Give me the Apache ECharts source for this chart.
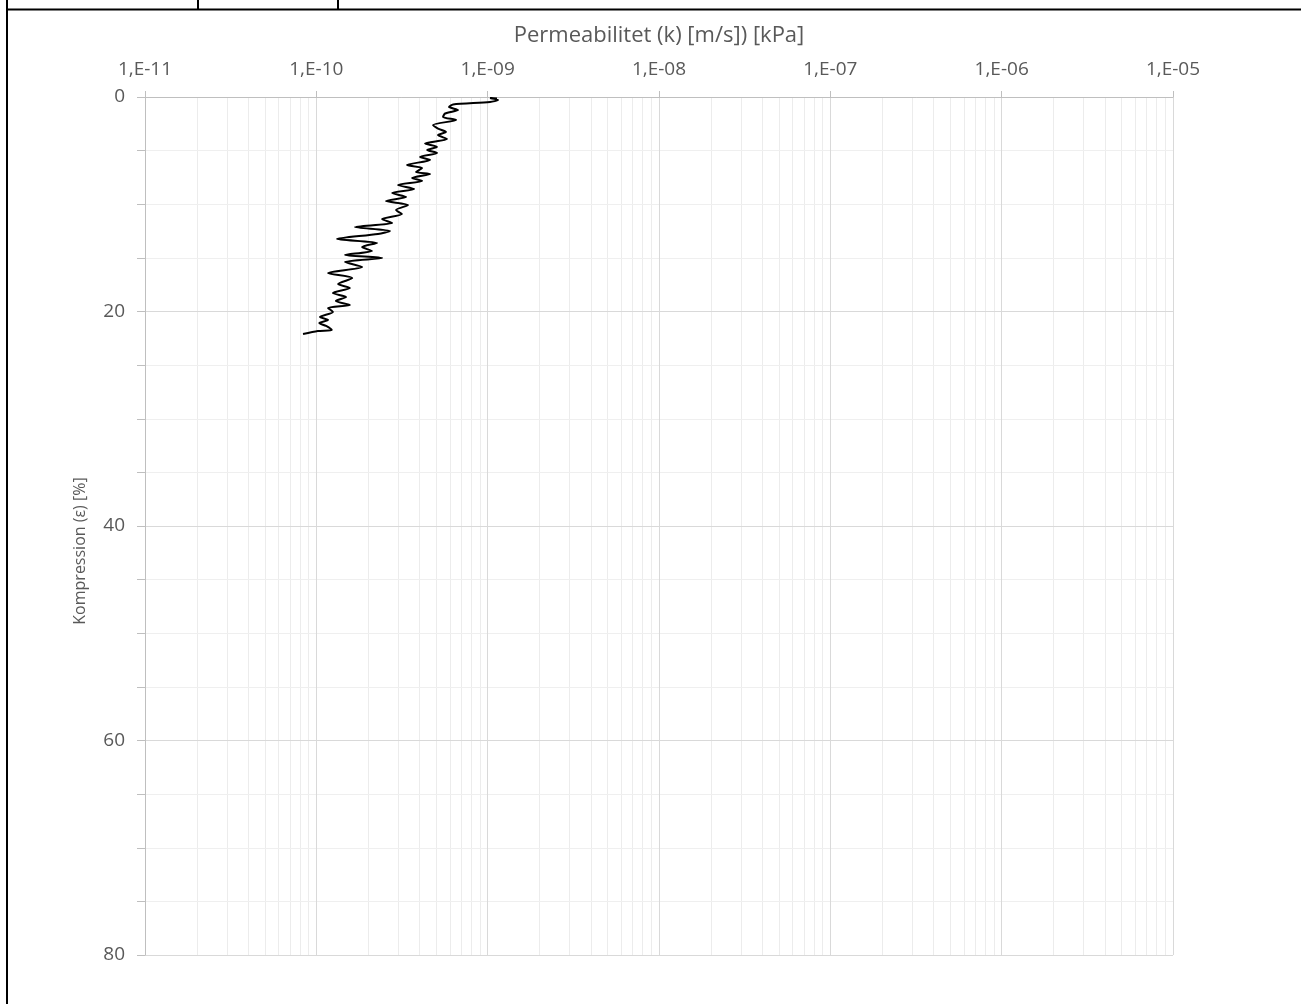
<!DOCTYPE html>
<html><head><meta charset="utf-8">
<script src="https://cdn.jsdelivr.net/npm/echarts@6/dist/echarts.min.js"></script>
<style>html,body{margin:0;padding:0;background:#fff}#c{width:1301px;height:1004px}</style>
</head><body><div id="c"></div>
<script>
// Permeability k [m/s] and compression eps [%]
const permeability = [
  1.134e-9, 1.032e-9, 1.149e-9, 1.032e-9, 6.28e-10, 5.95e-10, 6.71e-10, 5.64e-10, 5.49e-10, 6.54e-10,
  4.80e-10, 5.13e-10, 5.71e-10, 5.13e-10, 5.79e-10, 4.31e-10, 5.06e-10, 4.43e-10, 5.06e-10, 4.03e-10,
  4.61e-10, 3.38e-10, 4.14e-10, 3.82e-10, 4.61e-10, 3.62e-10, 4.14e-10, 3.00e-10, 3.72e-10, 2.77e-10,
  3.34e-10, 2.55e-10, 3.43e-10, 2.92e-10, 3.16e-10, 2.42e-10, 2.77e-10, 1.68e-10, 2.69e-10, 2.29e-10,
  1.32e-10, 2.26e-10, 1.85e-10, 2.11e-10, 1.47e-10, 2.42e-10, 1.47e-10, 1.85e-10, 1.17e-10, 1.62e-10,
  1.34e-10, 1.57e-10, 1.25e-10, 1.49e-10, 1.30e-10, 1.57e-10, 1.17e-10, 1.25e-10, 1.05e-10, 1.17e-10,
  1.04e-10, 1.14e-10, 1.23e-10, 1.02e-10, 8.36e-11
];
const compression = [
  0.14, 0.09, 0.28, 0.47, 0.70, 0.93, 1.21, 1.54, 1.86, 2.14,
  2.61, 2.94, 3.26, 3.54, 3.92, 4.34, 4.66, 4.94, 5.22, 5.59,
  5.87, 6.34, 6.62, 6.99, 7.18, 7.55, 7.83, 8.21, 8.58, 8.95,
  9.32, 9.70, 10.07, 10.54, 10.91, 11.38, 11.75, 12.12, 12.49, 12.77,
  13.24, 13.61, 13.99, 14.36, 14.73, 15.01, 15.38, 15.85, 16.41, 16.88,
  17.44, 17.81, 18.28, 18.65, 19.02, 19.39, 19.67, 20.05, 20.51, 20.79,
  21.07, 21.35, 21.72, 21.82, 22.10
];
const xDecadeExponents = [-11, -10, -9, -8, -7, -6, -5];
const minorMultipliers = [2, 3, 4, 5, 6, 7, 8, 9];
const yMin = 0, yMax = 80, yInterval = 20;
const xTitle = 'Permeabilitet (k) [m/s]) [kPa]';
const yTitle = 'Kompression (ε) [%]';

const FONT = 'Open Sans';
const TXT = '#595959';

const xMin = Math.pow(10, xDecadeExponents[0]);
const xMax = Math.pow(10, xDecadeExponents[xDecadeExponents.length - 1]);
const minorX = [];
xDecadeExponents.slice(0, -1).forEach(e => minorMultipliers.forEach(m => minorX.push(m * Math.pow(10, e))));

function fmtExp(v) {
  const e = Math.round(Math.log10(v));
  const a = Math.abs(e);
  return '1,E' + (e < 0 ? '-' : '+') + (a < 10 ? '0' + a : a);
}

const frame = [
  { type: 'line', z: 10, shape: { x1: 7, y1: 0, x2: 7, y2: 1004 }, style: { stroke: '#000', lineWidth: 2 } },
  { type: 'line', z: 10, shape: { x1: 6, y1: 9.5, x2: 1301, y2: 9.5 }, style: { stroke: '#000', lineWidth: 2 } },
  { type: 'line', z: 10, shape: { x1: 198, y1: 0, x2: 198, y2: 9 }, style: { stroke: '#000', lineWidth: 2 } },
  { type: 'line', z: 10, shape: { x1: 338, y1: 0, x2: 338, y2: 9 }, style: { stroke: '#000', lineWidth: 2 } }
];

const chart = echarts.init(document.getElementById('c'), null, { renderer: 'canvas' });
chart.setOption({
  animation: false,
  backgroundColor: '#fff',
  grid: { left: 145, top: 97, width: 1028, height: 858, containLabel: false },
  xAxis: {
    type: 'log', logBase: 10, position: 'top',
    min: xMin, max: xMax,
    name: xTitle, nameLocation: 'middle', nameGap: 50,
    nameTextStyle: { color: TXT, fontSize: 22, fontFamily: FONT },
    axisLine: { show: true, lineStyle: { color: '#bfbfbf', width: 1 } },
    axisTick: { show: true, inside: false, length: 6, lineStyle: { color: '#bfbfbf' } },
    axisLabel: { color: TXT, fontSize: 19, fontFamily: FONT, margin: 18, formatter: fmtExp },
    splitLine: { show: true, lineStyle: { color: '#d9d9d9', width: 1 } }
  },
  yAxis: {
    type: 'value', inverse: true, min: yMin, max: yMax, interval: yInterval,
    name: yTitle, nameLocation: 'middle', nameGap: 57,
    nameTextStyle: { color: TXT, fontSize: 16, fontFamily: FONT, padding: [0, 50, 0, 0] },
    axisLine: { show: true, lineStyle: { color: '#bfbfbf', width: 1 } },
    axisTick: { show: true, length: 8, lineStyle: { color: '#bfbfbf' } },
    minorTick: { show: true, splitNumber: 4, length: 8, lineStyle: { color: '#bfbfbf' } },
    axisLabel: { color: TXT, fontSize: 19, fontFamily: FONT, margin: 20 },
    splitLine: { show: true, lineStyle: { color: '#d9d9d9', width: 1 } },
    minorSplitLine: { show: true, lineStyle: { color: '#efefef', width: 1 } }
  },
  series: [
    {
      type: 'line', z: 5,
      data: permeability.map((k, i) => [k, compression[i]]),
      showSymbol: false, smooth: 0.25,
      lineStyle: { color: '#000', width: 2 }
    }
  ],
  graphic: frame
});

// minor vertical gridlines at 2..9 × 10^n, positioned through the axis scale
const yTop = chart.convertToPixel({ yAxisIndex: 0 }, yMin);
const yBot = chart.convertToPixel({ yAxisIndex: 0 }, yMax);
const minorLines = minorX.map(v => {
  const x = Math.round(chart.convertToPixel({ xAxisIndex: 0 }, v)) + 0.5;
  return { type: 'line', z: -1, silent: true, shape: { x1: x, y1: yTop, x2: x, y2: yBot },
           style: { stroke: '#ececec', lineWidth: 1 } };
});
chart.setOption({ graphic: frame.concat(minorLines) });
</script>
</body></html>
